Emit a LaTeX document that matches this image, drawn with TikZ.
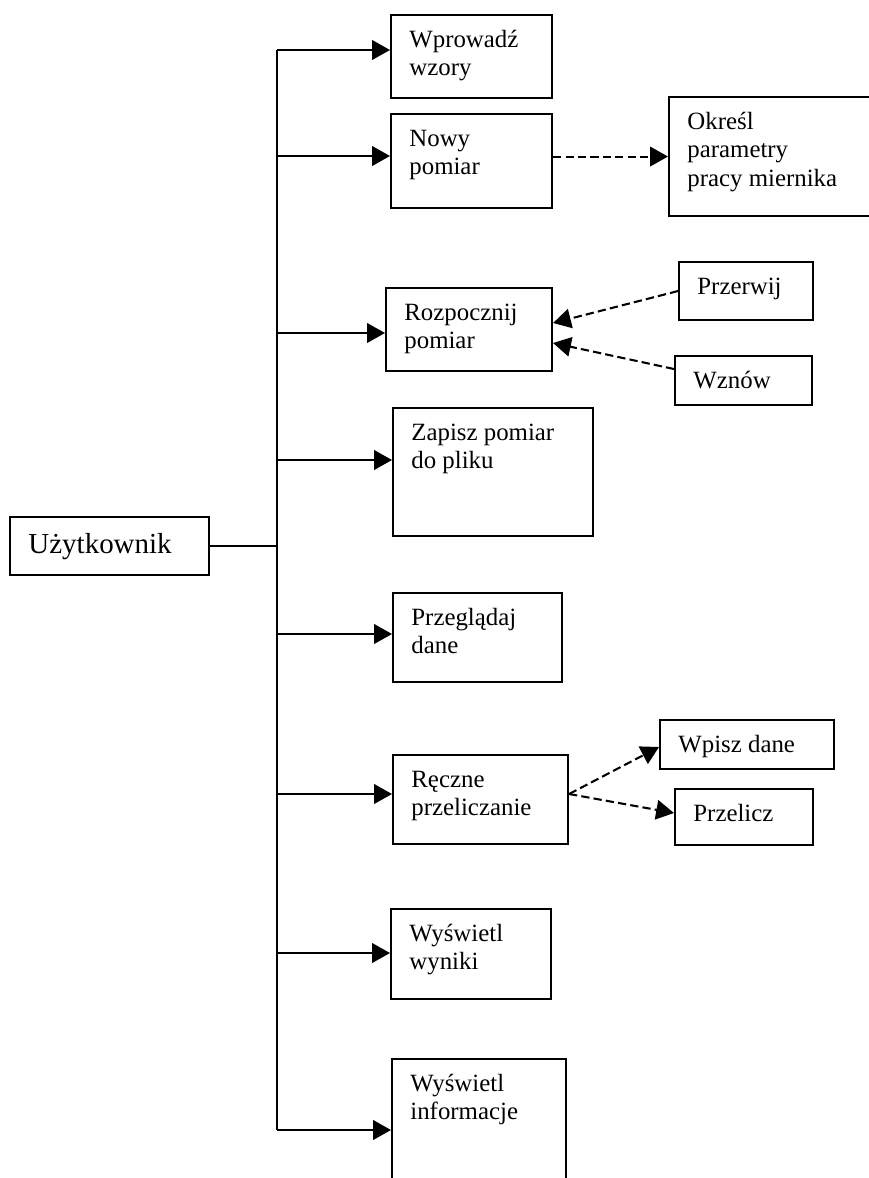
\documentclass[tikz,border=0pt]{standalone}
\usepackage{fontspec}
\setmainfont{Liberation Serif}
\usepackage{tikz}
\usetikzlibrary{arrows.meta}
\newcommand{\pxl}{0.483pt}
\tikzset{%
  every box/.style={
    draw,
    rectangle,
    line width=1pt,
    anchor=north west,
    inner sep=0pt
  },
  box text/.style={
    anchor=base west,
    inner sep=0pt,
    font=\fontsize{12}{13.9}\selectfont
  },
  flow/.style={line width=1pt, ->},
  hint/.style={flow, dash pattern=on 4pt off 2pt},
}

\begin{document}
\begin{tikzpicture}[> = {Triangle[length=8.6pt,width=9.4pt]}, x=\pxl, y=-\pxl]
\useasboundingbox (0,0) rectangle (869,1178);
    \foreach \n/\x/\y/\w/\h/\txt in {
        wpr/390/14/161/83/{Wprowadź\\wzory},
        nowy/390/113/161/94/{Nowy\\pomiar},
        okr/668/96/212/119/{Określ\\parametry\\pracy miernika},
        roz/385/287/166/83/{Rozpocznij\\pomiar},
        zap/392/407/200/128/{Zapisz pomiar\\do pliku},
        prg/392/592/169/89/{Przeglądaj\\dane},
        rec/392/754/175/89/{Ręczne\\przeliczanie},
        wyn/390/908/160/90/{Wyświetl\\wyniki},
        inf/391/1058/174/140/{Wyświetl\\informacje},
        prz/678/261/134/58/{Przerwij},
        wzn/674/355/137/49/{Wznów},
        wpi/659/719/174/49/{Wpisz dane},
        prl/674/788/138/56/{Przelicz}}
    {
        \node[every box, minimum width=\w*\pxl, minimum height=\h*\pxl] (\n) at (\x,\y) {};
        \node[box text] (\n-t) at ([shift={(19,33)}]\n.north west) {\parbox[t]{8cm}{\txt}};
    }

    \node[every box, minimum width=199*\pxl, minimum height=58*\pxl] (uzy) at (9,516) {};
    \node[box text, font=\fontsize{14}{16}\selectfont] (uzy-t) at ([shift={(19,37)}]uzy.north west) {Użytkownik};

    % trunk
    \coordinate (top) at (277,50);
    \coordinate (bot) at (277,1130);
    \draw[line width=1pt] (top) -- (bot);
    \draw[line width=1pt] (uzy.east) -- (uzy.east -| top);

    \foreach \n/\y in {wpr/50,nowy/156,roz/333,zap/460,prg/634,rec/794,wyn/953,inf/1130}
    {
        \coordinate (j-\n) at (277,\y);
        \draw[flow] (j-\n) -- (j-\n -| \n.west);
    }

    % dashed links
    \draw[hint] (nowy.east |- okr.west) -- (okr.west);
    \draw[hint] (prz.west) -- (roz.east |- 0,323);
    \draw[hint] (wzn.west |- 0,369) -- (roz.east |- 0,343);
    \draw[hint] (rec.east |- j-rec) -- (wpi.west |- 0,747);
    \draw[hint] (rec.east |- j-rec) -- (prl.west |- 0,813);
\end{tikzpicture}
\end{document}
